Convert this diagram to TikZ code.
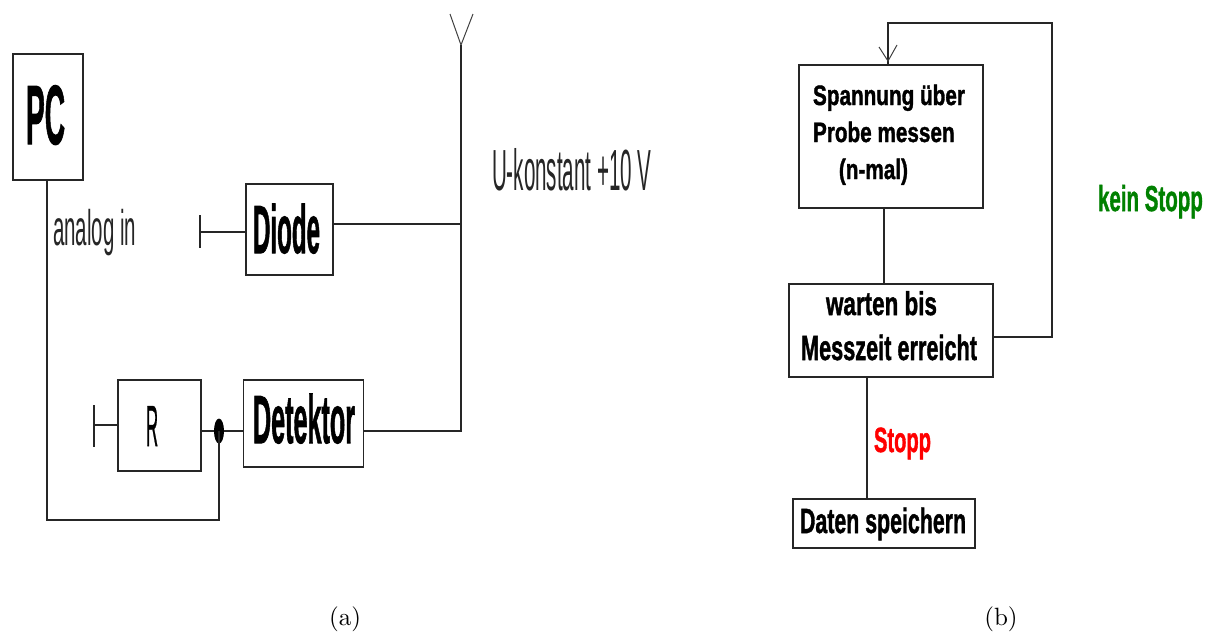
\documentclass[tikz,border=0pt]{standalone}
\usepackage{graphicx}
\usepackage{fontspec}
\usetikzlibrary{shapes.geometric}
\newfontfamily\heavy[FakeBold=1.5]{Liberation Sans Bold}
\newfontfamily\thinface{Liberation Sans}
\newfontfamily\midface[FakeBold=1]{Liberation Sans}
\newcommand{\squeeze}[3]{\scalebox{#1}[1]{\fontsize{#2}{#2}\selectfont #3}}
\tikzset{
  wire/.style={line width=1.6pt,draw=black!85},
  thinwire/.style={line width=1pt,draw=black!75},
  box/.style={draw=black!85,line width=1.8pt,fill=white,rectangle,inner sep=0pt,outer sep=0pt,anchor=north west},
  txt/.style={inner sep=0pt,outer sep=0pt,anchor=base west},
  heavytxt/.style={txt,font=\heavy},
  thintxt/.style={txt,font=\thinface,text=black!85},
  caption/.style={inner sep=0pt,outer sep=0pt}
}
\begin{document}
\begin{tikzpicture}[x=1pt,y=-1pt]
\useasboundingbox (0,0) rectangle (1213,633);
% (a) boxes
\node[box,minimum width=70pt,minimum height=126pt] (pc) at (13,54) {};
\node[box,minimum width=87pt,minimum height=91pt] (diode) at (246,184) {};
\node[box,minimum width=83pt,minimum height=91pt] (r) at (118,380) {};
\node[box,minimum width=120pt,minimum height=87pt] (det) at (243.5,380) {};
\node[heavytxt] (tpc) at (26,144) {\squeeze{.335}{84}{PC}};
\node[heavytxt] (tdiode) at (253,253) {\squeeze{.355}{68}{Diode}};
\node[txt,font=\midface,text=black] (tr) at (146,446) {\squeeze{.29}{58}{R}};
\node[heavytxt] (tdet) at (253,443) {\squeeze{.37}{68}{Detektor}};
\node[thintxt] (analog) at (53,245) {\squeeze{.41}{50}{analog in}};
\node[thintxt] (ukon) at (492,190) {\squeeze{.355}{58}{U-konstant +10 V}};
% (a) named points
\node[ellipse,fill=black,inner sep=0pt,minimum width=10pt,minimum height=25pt] (junc) at (219,431) {};
\coordinate (ant) at (461,45);
\coordinate (antl) at (450,14);
\coordinate (antr) at (473,14);
\coordinate (railb) at (461,431);
\coordinate (railm) at (461,224);
\coordinate (pcb) at (47,520);
\coordinate (jb) at (219,520);
\coordinate (rstub) at (94,425);
\coordinate (rtop) at (94,405);
\coordinate (rbot) at (94,447);
\coordinate (dstub) at (200,232);
\coordinate (dtop) at (200,215);
\coordinate (dbot) at (200,248);
% (a) connectors
\draw[thinwire] (antl) -- (ant) -- (antr);
\draw[wire] (ant) -- (railb) -- (det.east |- railb);
\draw[wire] (diode.east |- railm) -- (railm);
\draw[wire] (pc.south -| pcb) -- (pcb) -- (jb) -- (junc.center);
\draw[wire] (r.east |- junc) -- (junc) -- (det.west |- junc);
\draw[wire] (r.west |- rstub) -- (rstub);
\draw[wire] (rtop) -- (rbot);
\draw[wire] (diode.west |- dstub) -- (dstub);
\draw[wire] (dtop) -- (dbot);
% (b) boxes
\node[box,minimum width=184pt,minimum height=143pt] (mess) at (799,65) {};
\node[box,minimum width=204pt,minimum height=93pt] (warten) at (789,284) {};
\node[box,minimum width=182pt,minimum height=49pt] (daten) at (793,499) {};
\node[heavytxt] (tmess) at (813,105) {\squeeze{.74}{28}{\vtop{\baselineskip=37pt\lineskiplimit=-100pt
  \hbox{Spannung über}\hbox{Probe messen}\hbox{\hspace{35pt}(n-mal)}}}};
\node[heavytxt] (twarten) at (826,315) {\squeeze{.68}{33}{warten bis}};
\node[heavytxt] (tmz) at (801,360) {\squeeze{.62}{35}{Messzeit erreicht}};
\node[heavytxt] (tdaten) at (800,533) {\squeeze{.61}{35}{Daten speichern}};
\node[heavytxt,text={rgb,255:red,0;green,128;blue,0}] (kein) at (1098,211) {\squeeze{.57}{36}{kein Stopp}};
\node[heavytxt,text=red] (stopp) at (874,452) {\squeeze{.575}{35}{Stopp}};
% (b) named points
\coordinate (lp1) at (1052,337);
\coordinate (lp2) at (1052,23);
\coordinate (lp3) at (888,23);
\coordinate (arrowtip) at (888,61);
\coordinate (arl) at (879,47);
\coordinate (arr) at (897,45);
\coordinate (c1) at (884,100);
\coordinate (c2) at (867,400);
% (b) connectors
\draw[wire] (mess.south -| c1) -- (warten.north -| c1);
\draw[wire] (warten.south -| c2) -- (daten.north -| c2);
\draw[wire] (warten.east |- lp1) -- (lp1) -- (lp2) -- (lp3) -- (mess.north -| lp3);
\draw[thinwire] (arl) -- (arrowtip) -- (arr);
% captions
\node[caption] (capa) at (345,619) {\scalebox{2.5}{(a)}};
\node[caption] (capb) at (1001,619) {\scalebox{2.5}{(b)}};
\end{tikzpicture}
\end{document}
